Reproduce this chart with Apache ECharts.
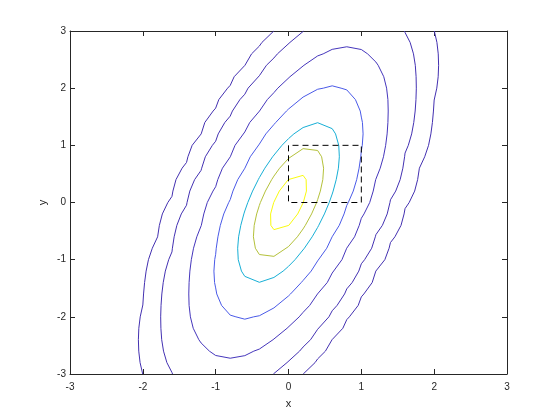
<!DOCTYPE html>
<html>
<head>
<meta charset="utf-8">
<script src="https://cdn.jsdelivr.net/npm/echarts@6/dist/echarts.min.js"></script>
<style>html,body{margin:0;padding:0;background:#fff;}#chart{width:560px;height:420px;}</style>
</head>
<body>
<div id="chart"></div>
<script>
// Axis ticks
var xTicks = [-3, -2, -1, 0, 1, 2, 3];
var yTicks = [-3, -2, -1, 0, 1, 2, 3];
// Contour levels (outermost first)
var levels = [0.0001, 0.001, 0.01, 0.05, 0.15, 0.25, 0.35];

// Level 0.0001 (two open pieces)
var c1Right = [[0.202,-3],[0.365,-2.8],[0.4,-2.736],[0.507,-2.6],[0.598,-2.4],[0.6,-2.395],[0.746,-2.2],[0.8,-2.049],[0.836,-2.0],[0.957,-1.8],[1.0,-1.651],[1.035,-1.6],[1.149,-1.4],[1.199,-1.2],[1.2,-1.194],[1.323,-1.0],[1.381,-0.8],[1.4,-0.701],[1.461,-0.6],[1.545,-0.4],[1.587,-0.2],[1.6,-0.107],[1.657,0],[1.732,0.2],[1.773,0.4],[1.797,0.6],[1.8,0.633],[1.870,0.8],[1.923,1.0],[1.955,1.2],[1.976,1.4],[1.990,1.6],[2.0,1.792],[2.002,1.8],[2.036,2.0],[2.055,2.2],[2.061,2.4],[2.056,2.6],[2.038,2.8],[2.002,3.0]];
var c1Left = [[-0.202,3],[-0.365,2.8],[-0.4,2.736],[-0.507,2.6],[-0.598,2.4],[-0.6,2.395],[-0.746,2.2],[-0.8,2.049],[-0.836,2.0],[-0.957,1.8],[-1.0,1.651],[-1.035,1.6],[-1.149,1.4],[-1.199,1.2],[-1.2,1.194],[-1.323,1.0],[-1.381,0.8],[-1.4,0.701],[-1.461,0.6],[-1.545,0.4],[-1.587,0.2],[-1.6,0.107],[-1.657,0],[-1.732,-0.2],[-1.773,-0.4],[-1.797,-0.6],[-1.8,-0.633],[-1.870,-0.8],[-1.923,-1.0],[-1.955,-1.2],[-1.976,-1.4],[-1.990,-1.6],[-2.0,-1.792],[-2.002,-1.8],[-2.036,-2.0],[-2.055,-2.2],[-2.061,-2.4],[-2.056,-2.6],[-2.038,-2.8],[-2.002,-3.0]];
// Level 0.001 (two open pieces)
var c2Right = [[-0.208,-3],[-0.2,-2.993],[-0.020,-2.8],[0,-2.778],[0.152,-2.6],[0.2,-2.528],[0.303,-2.4],[0.4,-2.218],[0.414,-2.2],[0.555,-2.0],[0.6,-1.894],[0.667,-1.8],[0.770,-1.6],[0.8,-1.511],[0.874,-1.4],[0.965,-1.2],[1.0,-1.072],[1.045,-1.0],[1.142,-0.8],[1.192,-0.6],[1.2,-0.563],[1.289,-0.4],[1.355,-0.2],[1.393,0],[1.4,0.047],[1.472,0.2],[1.533,0.4],[1.570,0.6],[1.594,0.8],[1.6,0.864],[1.645,1.0],[1.691,1.2],[1.720,1.4],[1.739,1.6],[1.750,1.8],[1.755,2.0],[1.752,2.2],[1.741,2.4],[1.716,2.6],[1.670,2.8],[1.6,2.974],[1.592,3.0]];
var c2Left = [[0.208,3],[0.2,2.993],[0.020,2.8],[0,2.778],[-0.152,2.6],[-0.2,2.528],[-0.303,2.4],[-0.4,2.218],[-0.414,2.2],[-0.555,2.0],[-0.6,1.894],[-0.667,1.8],[-0.770,1.6],[-0.8,1.511],[-0.874,1.4],[-0.965,1.2],[-1.0,1.072],[-1.045,1.0],[-1.142,0.8],[-1.192,0.6],[-1.2,0.563],[-1.289,0.4],[-1.355,0.2],[-1.393,0],[-1.4,-0.047],[-1.472,-0.2],[-1.533,-0.4],[-1.570,-0.6],[-1.594,-0.8],[-1.6,-0.864],[-1.645,-1.0],[-1.691,-1.2],[-1.720,-1.4],[-1.739,-1.6],[-1.750,-1.8],[-1.755,-2.0],[-1.752,-2.2],[-1.741,-2.4],[-1.716,-2.6],[-1.670,-2.8],[-1.6,-2.974],[-1.592,-3.0]];
// Level 0.01
var c3 = [[-0.8,-2.724],[-0.6,-2.679],[-0.476,-2.6],[-0.4,-2.564],[-0.212,-2.4],[-0.2,-2.391],[-0.020,-2.2],[0,-2.178],[0.147,-2.0],[0.2,-1.922],[0.291,-1.8],[0.398,-1.6],[0.4,-1.596],[0.532,-1.4],[0.6,-1.234],[0.622,-1.2],[0.734,-1.0],[0.799,-0.8],[0.8,-0.795],[0.907,-0.6],[0.971,-0.4],[1.0,-0.276],[1.037,-0.2],[1.115,0],[1.163,0.2],[1.197,0.4],[1.2,0.425],[1.259,0.6],[1.304,0.8],[1.334,1.0],[1.354,1.2],[1.365,1.4],[1.369,1.6],[1.365,1.8],[1.347,2.0],[1.308,2.2],[1.231,2.4],[1.2,2.457],[1.086,2.6],[1.0,2.676],
  [0.8,2.724],[0.6,2.679],[0.476,2.6],[0.4,2.564],[0.212,2.4],[0.2,2.391],[0.020,2.2],[0,2.178],[-0.147,2.0],[-0.2,1.922],[-0.291,1.8],[-0.398,1.6],[-0.4,1.596],[-0.532,1.4],[-0.6,1.234],[-0.622,1.2],[-0.734,1.0],[-0.799,0.8],[-0.8,0.795],[-0.907,0.6],[-0.971,0.4],[-1.0,0.276],[-1.037,0.2],[-1.115,0],[-1.163,-0.2],[-1.197,-0.4],[-1.2,-0.425],[-1.259,-0.6],[-1.304,-0.8],[-1.334,-1.0],[-1.354,-1.2],[-1.365,-1.4],[-1.369,-1.6],[-1.365,-1.8],[-1.347,-2.0],[-1.308,-2.2],[-1.231,-2.4],[-1.2,-2.457],[-1.086,-2.6],[-1.0,-2.676],[-0.8,-2.724]];
// Level 0.05
var c4 = [[-0.6,-2.041],[-0.478,-2.0],[-0.4,-1.981],[-0.2,-1.844],[-0.158,-1.8],[0,-1.635],[0.028,-1.6],[0.175,-1.4],[0.2,-1.364],[0.311,-1.2],[0.4,-1.022],[0.413,-1.0],[0.525,-0.8],[0.599,-0.6],[0.6,-0.597],[0.697,-0.4],[0.763,-0.2],[0.8,-0.051],[0.821,0],[0.889,0.2],[0.936,0.4],[0.969,0.6],[0.992,0.8],[1.0,0.906],[1.013,1.0],[1.024,1.2],[1.015,1.4],[1.0,1.494],[0.985,1.6],[0.919,1.8],[0.8,1.970],[0.722,2.0],
  [0.6,2.041],[0.478,2.0],[0.4,1.981],[0.2,1.844],[0.158,1.8],[0,1.635],[-0.028,1.6],[-0.175,1.4],[-0.2,1.364],[-0.311,1.2],[-0.4,1.022],[-0.413,1.0],[-0.525,0.8],[-0.599,0.6],[-0.6,0.597],[-0.697,0.4],[-0.763,0.2],[-0.8,0.051],[-0.821,0],[-0.889,-0.2],[-0.936,-0.4],[-0.969,-0.6],[-0.992,-0.8],[-1.0,-0.906],[-1.013,-1.0],[-1.024,-1.2],[-1.015,-1.4],[-1.0,-1.494],[-0.985,-1.6],[-0.919,-1.8],[-0.8,-1.970],[-0.722,-2.0],[-0.6,-2.041]];
// Level 0.15
var c5 = [[0.4,1.396],[0.6,1.292],[0.646,1.2],[0.690,1.0],[0.698,0.8],[0.685,0.6],[0.655,0.4],[0.613,0.2],[0.6,0.148],[0.559,0],[0.493,-0.2],[0.415,-0.4],[0.4,-0.436],[0.325,-0.6],[0.218,-0.8],[0.2,-0.831],[0.090,-1.0],[0,-1.117],[-0.074,-1.2],[-0.2,-1.311],[-0.4,-1.396],[-0.6,-1.292],[-0.646,-1.2],[-0.690,-1.0],[-0.698,-0.8],[-0.685,-0.6],[-0.655,-0.4],[-0.613,-0.2],[-0.6,-0.148],[-0.559,0],[-0.493,0.2],[-0.415,0.4],[-0.4,0.436],[-0.325,0.6],[-0.218,0.8],[-0.2,0.831],[-0.090,1.0],[0,1.117],[0.074,1.2],[0.2,1.311],[0.4,1.396]];
// Level 0.25
var c6 = [[0.2,0.942],[0.4,0.910],[0.455,0.8],[0.482,0.6],[0.471,0.4],[0.437,0.2],[0.4,0.050],[0.386,0],[0.317,-0.2],[0.231,-0.4],[0.2,-0.462],[0.122,-0.6],[0,-0.771],[-0.025,-0.8],[-0.2,-0.942],[-0.4,-0.910],[-0.455,-0.8],[-0.482,-0.6],[-0.471,-0.4],[-0.437,-0.2],[-0.4,-0.050],[-0.386,0],[-0.317,0.2],[-0.231,0.4],[-0.2,0.462],[-0.122,0.6],[0,0.771],[0.025,0.8],[0.2,0.942]];
// Level 0.35
var c7 = [[0.2,0.475],[0.242,0.4],[0.246,0.2],[0.203,0],[0.2,-0.009],[0.126,-0.2],[0.004,-0.4],[0,-0.405],[-0.2,-0.475],[-0.242,-0.4],[-0.246,-0.2],[-0.203,0],[-0.2,0.009],[-0.126,0.2],[-0.004,0.4],[0,0.405],[0.2,0.475]];
// Dashed rectangle corners
var rectX = [0, 0, 1, 1, 0];
var rectY = [1, 0, 0, 1, 1];

var levelColors = ['#4330b0', '#4331b2', '#4536bc', '#4a5ae8', '#17afd6', '#b4c13a', '#f9fb0e'];

var contourSets = [
  [c1Right, c1Left], [c2Right, c2Left], [c3], [c4], [c5], [c6], [c7]
];

var series = [];
contourSets.forEach(function (pieces, i) {
  pieces.forEach(function (pts) {
    series.push({
      type: 'line', data: pts, showSymbol: false, smooth: false, silent: true,
      lineStyle: { color: levelColors[i], width: 1 }, animation: false, z: 2
    });
  });
});
series.push({
  type: 'line', data: rectX.map(function (x, k) { return [x, rectY[k]]; }),
  showSymbol: false, silent: true, animation: false, z: 3,
  lineStyle: { color: '#000000', width: 1, type: [6, 4] }
});

var axisCol = '#262626';
var font = 'Liberation Sans, Arial, Helvetica, sans-serif';
function mkX(pos, show) {
  return {
    type: 'value', position: pos, min: xTicks[0], max: xTicks[xTicks.length - 1], interval: 1,
    axisLine: { show: true, onZero: false, lineStyle: { color: axisCol, width: 1 } },
    axisTick: { show: true, inside: true, length: 5, lineStyle: { color: axisCol } },
    axisLabel: { show: show, color: axisCol, fontSize: 10, fontFamily: font, margin: 8 },
    splitLine: { show: false },
    name: show ? 'x' : '', nameLocation: 'middle', nameGap: 24, nameMoveOverlap: false,
    nameTextStyle: { color: axisCol, fontSize: 11, fontFamily: font }
  };
}
function mkY(pos, show) {
  return {
    type: 'value', position: pos, min: yTicks[0], max: yTicks[yTicks.length - 1], interval: 1,
    axisLine: { show: true, onZero: false, lineStyle: { color: axisCol, width: 1 } },
    axisTick: { show: true, inside: true, length: 5, lineStyle: { color: axisCol } },
    axisLabel: { show: show, color: axisCol, fontSize: 10, fontFamily: font, margin: 4 },
    splitLine: { show: false },
    name: show ? 'y' : '', nameLocation: 'middle', nameGap: 22, nameRotate: 90, nameMoveOverlap: false,
    nameTextStyle: { color: axisCol, fontSize: 11, fontFamily: font }
  };
}

var chart = echarts.init(document.getElementById('chart'), null, { renderer: 'canvas' });
chart.setOption({
  animation: false,
  backgroundColor: '#ffffff',
  grid: { left: 70, top: 31, width: 437, height: 343, containLabel: false },
  xAxis: [mkX('bottom', true), mkX('top', false)],
  yAxis: [mkY('left', true), mkY('right', false)],
  series: series
});
</script>
</body>
</html>
